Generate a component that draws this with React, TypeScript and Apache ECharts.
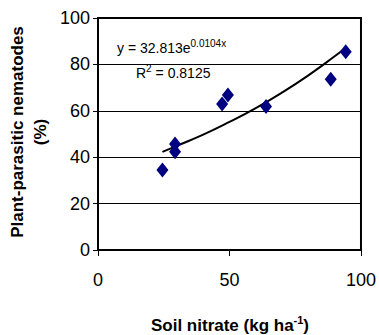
import React, { useEffect, useRef } from "react";
import * as echarts from "echarts";

const soilNitrate = [24.5, 29.3, 29.3, 47.2, 49.4, 63.9, 88.5, 94.2];
const nematodes = [34.5, 45.7, 42.3, 62.9, 66.8, 61.8, 73.6, 85.5];
const trendX = [24.5, 30, 40, 50, 60, 70, 80, 90, 94.2];
const trendY = [42.3, 44.9, 49.7, 55.2, 61.2, 67.9, 75.3, 83.5, 87.2];
const equationText = "y = 32.813e";
const equationExp = "0.0104x";
const r2Value = "0.8125";
const xTitle = "Soil nitrate (kg ha";
const yTitle1 = "Plant-parasitic nematodes";
const yTitle2 = "(%)";

const FONT = "'Liberation Sans', Arial, sans-serif";

export default function App() {
  const ref = useRef<HTMLDivElement>(null);
  useEffect(() => {
    const chart = echarts.init(ref.current!, null, { renderer: "svg" });
    chart.setOption({
      animation: false,
      textStyle: { fontFamily: FONT },
      grid: {
        left: 98,
        right: 17,
        top: 18,
        bottom: 85,
        show: true,
        borderColor: "#000",
        borderWidth: 2,
      },
      xAxis: {
        type: "value",
        min: 0,
        max: 100,
        interval: 50,
        axisLine: { show: true, onZero: false, lineStyle: { color: "#000", width: 2 } },
        axisTick: { show: true, length: 6, lineStyle: { color: "#000" } },
        axisLabel: { color: "#000", fontSize: 18, margin: 21, fontFamily: FONT },
        splitLine: { show: false },
      },
      yAxis: {
        type: "value",
        min: 0,
        max: 100,
        interval: 20,
        axisLine: { show: true, lineStyle: { color: "#000", width: 2 } },
        axisTick: { show: true, length: 5, lineStyle: { color: "#000" } },
        axisLabel: { color: "#000", fontSize: 18, margin: 8, fontFamily: FONT },
        splitLine: { show: true, lineStyle: { color: "#000", width: 1 } },
      },
      series: [
        {
          type: "line",
          data: trendX.map((x, i) => [x, trendY[i]]),
          showSymbol: false,
          smooth: true,
          lineStyle: { color: "#000", width: 2 },
          z: 2,
        },
        {
          type: "scatter",
          data: soilNitrate.map((x, i) => [x, nematodes[i]]),
          symbol: "diamond",
          symbolSize: [12, 15],
          itemStyle: { color: "#000080", opacity: 1 },
          z: 3,
        },
      ],
      graphic: [
        {
          type: "text",
          left: 117,
          top: 38,
          style: {
            text: `{a|${equationText}}{s|${equationExp}}`,
            rich: {
              a: { fontSize: 14, fontFamily: FONT, fill: "#000", lineHeight: 18 },
              s: { fontSize: 10, fontFamily: FONT, fill: "#000", lineHeight: 18, padding: [0, 0, 9, 0] },
            },
          },
        },
        {
          type: "text",
          left: 136,
          top: 63,
          style: {
            text: `{a|R}{s|2}{a| = ${r2Value}}`,
            rich: {
              a: { fontSize: 14, fontFamily: FONT, fill: "#000", lineHeight: 18 },
              s: { fontSize: 10, fontFamily: FONT, fill: "#000", lineHeight: 18, padding: [0, 0, 9, 0] },
            },
          },
        },
        {
          type: "text",
          x: 230,
          y: 325,
          style: {
            text: `{a|${xTitle}}{s|-1}{a|)}`,
            align: "center",
            verticalAlign: "middle",
            rich: {
              a: { fontSize: 17, fontWeight: "bold", fontFamily: FONT, fill: "#000", lineHeight: 20 },
              s: { fontSize: 11, fontWeight: "bold", fontFamily: FONT, fill: "#000", lineHeight: 20, padding: [0, 0, 10, 0] },
            },
          },
        },
        {
          type: "text",
          x: 17,
          y: 132,
          rotation: Math.PI / 2,
          style: {
            text: yTitle1,
            align: "center",
            verticalAlign: "middle",
            fontSize: 17,
            fontWeight: "bold",
            fontFamily: FONT,
            fill: "#000",
          },
        },
        {
          type: "text",
          x: 40,
          y: 132,
          rotation: Math.PI / 2,
          style: {
            text: yTitle2,
            align: "center",
            verticalAlign: "middle",
            fontSize: 17,
            fontWeight: "bold",
            fontFamily: FONT,
            fill: "#000",
          },
        },
      ],
    });
    return () => chart.dispose();
  }, []);
  return (
    <div
      ref={ref}
      style={{ position: "fixed", left: 0, top: 0, width: 379, height: 335, background: "#fff" }}
    />
  );
}
